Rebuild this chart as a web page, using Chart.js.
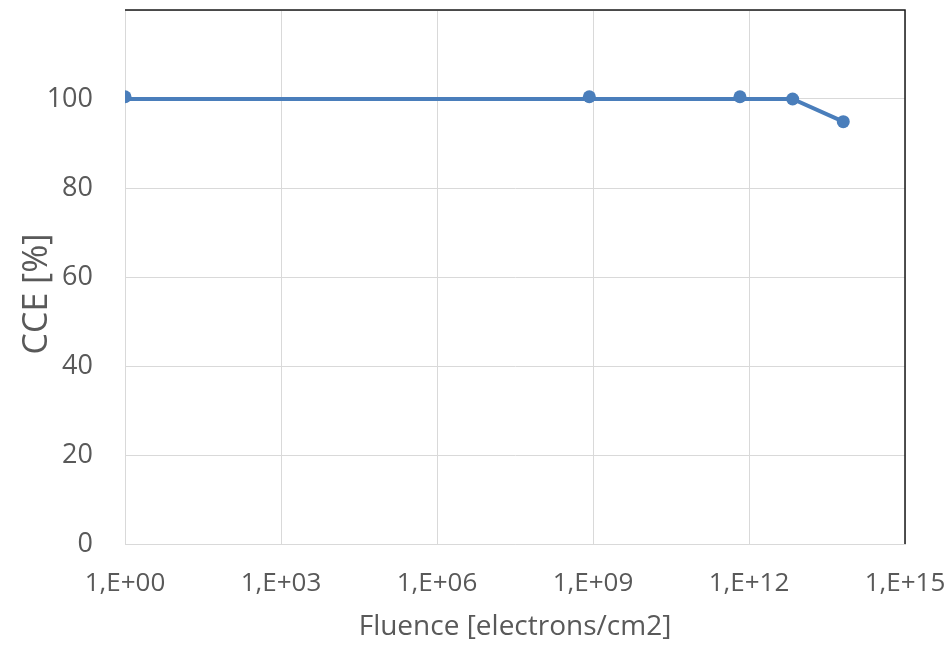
<!DOCTYPE html>
<html>
<head>
<meta charset="utf-8">
<script src="https://cdn.jsdelivr.net/npm/chart.js@4/dist/chart.umd.min.js"></script>
<style>
  html, body { margin: 0; padding: 0; background: #ffffff; }
  #wrap { width: 949px; height: 645px; }
</style>
</head>
<body>
<div id="wrap"><canvas id="c" width="949" height="645"></canvas></div>
<script>
// Fluence in electrons/cm2
const fluence = [1, 8.5e8, 6.7e11, 6.9e12, 6.5e13];
// Measured charge collection efficiency [%]
const cceMeasured = [100.5, 100.5, 100.5, 100.0, 94.9];
// Trend curve through the measurements
const cceTrend = [100.0, 100.0, 100.0, 100.0, 94.9];
// Decade ticks shown on the fluence axis
const xTickValues = [1, 1e3, 1e6, 1e9, 1e12, 1e15];
const yTickValues = [0, 20, 40, 60, 80, 100];
const yTitle = 'CCE [%]';

const blue = '#4a7ebb';
const grey = '#595959';
const fontFam = '"Open Sans", "Liberation Sans", sans-serif';

// Dark frame on the top and right edges of the plot, plus the rotated y title
const frame = {
  id: 'frame',
  afterDatasetsDraw(chart) {
    const { ctx, chartArea: a } = chart;
    ctx.save();
    ctx.strokeStyle = '#1a1a1a';
    ctx.lineWidth = 1.5;
    ctx.beginPath();
    ctx.moveTo(a.left, a.top);
    ctx.lineTo(a.right, a.top);
    ctx.lineTo(a.right, a.bottom);
    ctx.stroke();
    ctx.restore();
  },
  afterDraw(chart) {
    const { ctx, chartArea: a } = chart;
    ctx.save();
    ctx.translate(37, (a.top + a.bottom) / 2 + 17);
    ctx.rotate(-Math.PI / 2);
    ctx.fillStyle = grey;
    ctx.font = '34px ' + fontFam;
    ctx.textAlign = 'center';
    ctx.textBaseline = 'middle';
    ctx.fillText(yTitle, 0, 0);
    ctx.restore();
  }
};

new Chart(document.getElementById('c'), {
  type: 'line',
  data: {
    datasets: [
      {
        label: 'Trend',
        data: fluence.map((x, i) => ({ x, y: cceTrend[i] })),
        borderColor: blue,
        borderWidth: 4,
        pointRadius: 0,
        tension: 0,
        fill: false,
        order: 2
      },
      {
        label: 'CCE',
        data: fluence.map((x, i) => ({ x, y: cceMeasured[i] })),
        showLine: false,
        pointRadius: 6.5,
        pointBackgroundColor: blue,
        pointBorderColor: blue,
        pointBorderWidth: 0,
        order: 1
      }
    ]
  },
  options: {
    responsive: false,
    animation: false,
    layout: { padding: { top: 10, right: 44, left: 0, bottom: 0 } },
    plugins: { legend: { display: false }, tooltip: { enabled: false } },
    scales: {
      x: {
        type: 'logarithmic',
        min: 1,
        max: 1e15,
        afterBuildTicks(scale) { scale.ticks = xTickValues.map(v => ({ value: v })); },
        afterFit(scale) {
          scale.height = 101;
          scale.paddingLeft = 0;
          scale.paddingRight = 0;
        },
        grid: { color: '#d9d9d9', lineWidth: 1, drawTicks: false },
        border: { color: '#d9d9d9', width: 1 },
        ticks: {
          padding: 24,
          color: grey,
          font: { family: fontFam, size: 26 },
          maxRotation: 0,
          autoSkip: false,
          callback(v) {
            const e = Math.round(Math.log10(v));
            return '1,E+' + String(e).padStart(2, '0');
          }
        },
        title: {
          display: true,
          text: 'Fluence [electrons/cm2]',
          color: grey,
          font: { family: fontFam, size: 28 },
          padding: { top: 0, bottom: 1 }
        }
      },
      y: {
        min: 0,
        max: 120,
        afterBuildTicks(scale) {
          scale.ticks = yTickValues.concat([120]).map(v => ({ value: v }));
        },
        afterFit(scale) {
          scale.width = 125;
          scale.paddingTop = 0;
          scale.paddingBottom = 0;
        },
        grid: { color: '#d9d9d9', lineWidth: 1, drawTicks: false },
        border: { color: '#d9d9d9', width: 1 },
        ticks: {
          padding: 32,
          color: grey,
          font: { family: fontFam, size: 27 },
          callback(v) { return yTickValues.includes(v) ? String(v) : ''; }
        }
      }
    }
  },
  plugins: [frame]
});
</script>
</body>
</html>
